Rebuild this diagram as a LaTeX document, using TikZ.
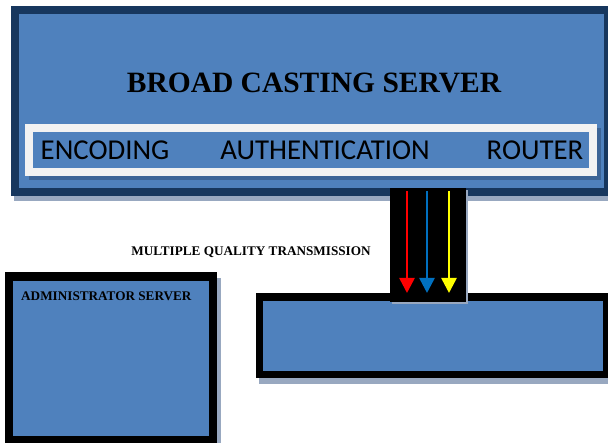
\documentclass[tikz,border=0pt]{standalone}
\usepackage{fontspec}
\setmainfont{Liberation Serif}
\newfontfamily\labelsans{Carlito}
\usetikzlibrary{arrows.meta}
\definecolor{fillblue}{HTML}{4F81BD}
\definecolor{navy}{HTML}{17375E}
\definecolor{shadowgrey}{HTML}{98A8C0}
\definecolor{barshade}{HTML}{3C6496}
\definecolor{barwhite}{HTML}{F2F2F2}
\definecolor{tipred}{HTML}{FF0000}
\definecolor{tipblue}{HTML}{0070C0}
\definecolor{tipyellow}{HTML}{FFFF00}
\tikzset{
  panel/.style={rectangle, inner sep=0pt, outer sep=0pt, anchor=north west},
  titletext/.style={font=\bfseries\fontsize{29.5}{32}\selectfont, inner sep=0pt, anchor=base},
  smalltitle/.style={font=\bfseries\fontsize{13.2}{15}\selectfont, inner sep=0pt},
  moduletext/.style={font=\labelsans\fontsize{28.8}{32}\selectfont, inner sep=0pt, anchor=base},
  flow/.style={line width=2.6pt, -{Triangle[width=15pt,length=15pt]}}
}
\begin{document}
\begin{tikzpicture}[x=1pt,y=-1pt]
\useasboundingbox (0,0) rectangle (608,443);
\clip (0,0) rectangle (608,443);

% broadcasting server
\fill[shadowgrey] (14,11) rectangle (615,201);
\node[panel, fill=navy, minimum width=601pt, minimum height=190pt] (server) at (11,6) {};
\fill[fillblue] (19,14) rectangle (604,188);
\fill[barshade] (29,128) rectangle (601,180);
\fill[barwhite] (25,124) rectangle (597,176);
\node[panel, fill=fillblue, minimum width=556pt, minimum height=36pt] (modules) at (33,132) {};
\node[titletext] (servername) at (314,93) {BROAD CASTING SERVER};
\node[moduletext] (enc) at (105,160) {ENCODING};
\node[moduletext] (auth) at (325,160) {AUTHENTICATION};
\node[moduletext] (route) at (535,160) {ROUTER};

% receiving box
\fill[shadowgrey] (259,298) rectangle (615,384);
\node[panel, fill=black, minimum width=356pt, minimum height=85pt] (recv) at (256,293) {};
\fill[fillblue] (263,301) rectangle (603,371);

% administrator server
\fill[shadowgrey] (9,278) rectangle (221,450);
\node[panel, fill=black, minimum width=212pt, minimum height=178pt] (admin) at (5,272) {};
\fill[fillblue] (13,281) rectangle (209,436);
\node[smalltitle, anchor=base west] (adminname) at (21,300.5) {ADMINISTRATOR SERVER};

% transmission link with three quality streams
\fill[shadowgrey] (392,190) rectangle (468,304);
\node[panel, fill=black, minimum width=76pt, minimum height=114pt] (link) at (390,188) {};
\draw[flow, tipred] (407,191) -- (407,191 |- recv.north);
\draw[flow, tipblue] (427,191) -- (427,191 |- recv.north);
\draw[flow, tipyellow] (449,191) -- (449,191 |- recv.north);
\node[smalltitle, anchor=base] (linkname) at (251,255.5) {MULTIPLE QUALITY TRANSMISSION};
\end{tikzpicture}
\end{document}
